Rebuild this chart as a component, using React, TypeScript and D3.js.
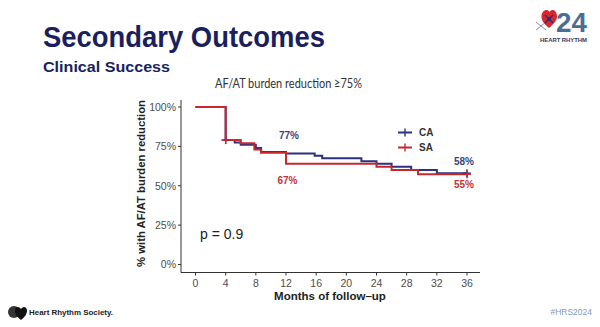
import React from "react";
import * as d3 from "d3";

const caTimes = [0, 4, 5.2, 6, 8, 8.7, 12, 15.8, 16.8, 22, 24, 26, 28.6, 32];
const caSurv = [100, 79, 77.5, 76, 74, 71.5, 70.5, 69, 67.5, 65.5, 64, 62, 60, 58];
const saTimes = [0, 4, 6, 7.8, 8.7, 12, 24, 26, 29.5];
const saSurv = [100, 79, 77, 73, 71, 64, 62, 60, 57.3];
const censorTimes = [4, 36];
const xTicks = [0, 4, 8, 12, 16, 20, 24, 28, 32, 36];
const yTicks = [0, 25, 50, 75, 100];
const seriesNames = ["CA", "SA"];
const annotationTexts = ["77%", "67%", "58%", "55%"];
const annotationSeries = ["CA", "SA", "CA", "SA"];
const annotationT = [12.4, 12.2, 35.6, 35.6];
const annotationV = [79.7, 51.1, 63.2, 48.6];

const NAVY = "#2c3180";
const RED = "#c6282e";
const FONT = "'Liberation Sans', Arial, sans-serif";

export default function App() {
  const x = d3.scaleLinear().domain([0, 36]).range([195.5, 467]);
  const y = d3.scaleLinear().domain([0, 100]).range([264.5, 107]);
  const line = d3
    .line<[number, number]>()
    .x((d) => x(d[0]))
    .y((d) => y(d[1]))
    .curve(d3.curveStepAfter);

  const build = (ts: number[], vs: number[]): [number, number][] => {
    const pts: [number, number][] = ts.map((t, i) => [t, vs[i]]);
    pts.push([36, vs[vs.length - 1]]);
    return pts;
  };
  const series = [
    { name: seriesNames[0], color: NAVY, pts: build(caTimes, caSurv), ts: caTimes, vs: caSurv },
    { name: seriesNames[1], color: RED, pts: build(saTimes, saSurv), ts: saTimes, vs: saSurv },
  ];
  const valueAt = (ts: number[], vs: number[], t: number) => {
    let v = vs[0];
    for (let i = 0; i < ts.length; i++) if (ts[i] <= t) v = vs[i];
    return v;
  };

  const axisLeft = 181;
  const axisBottom = 272.5;

  return (
    <div style={{ position: "fixed", left: 0, top: 0, width: 600, height: 327, background: "#fff" }}>
      <svg width={600} height={327} style={{ display: "block" }}>
        <rect x={0} y={0} width={600} height={327} fill="#fff" />
        {/* Titles */}
        <text x={43} y={46.5} fontFamily={FONT} fontWeight="bold" fontSize={29.5} fill="#1b1f5e" textLength={282} lengthAdjust="spacingAndGlyphs">
          Secondary Outcomes
        </text>
        <text x={43} y={72.3} fontFamily={FONT} fontWeight="bold" fontSize={15.5} fill="#1b1f5e" textLength={127} lengthAdjust="spacingAndGlyphs">
          Clinical Success
        </text>
        <text x={215} y={88} fontFamily="Lato, 'Open Sans', sans-serif" fontSize={12.5} fill="#333" textLength={147} lengthAdjust="spacingAndGlyphs">
          AF/AT burden reduction ≥75%
        </text>

        {/* Logo top right */}
        <g>
          <path d="M536,30 L546,22 M536,22 L546,30" stroke="#8a8f9a" strokeWidth={1} />
          <path
            d="M549,28 C543,23 541.5,20 541.5,16.5 C541.5,12.5 544,10 546.5,10 C548,10 549,11 549.5,12 C550,11 551,10 552.5,10 C555,10 557,12.5 557,16.5 C557,20 555,23 549,28 Z"
            fill="#d8262e"
          />
          <path d="M545,15 L553,23 M553,15 L545,23" stroke="#2a2f6a" strokeWidth={1.4} />
          <circle cx={549} cy={19} r={1.8} fill="#2a2f6a" />
          <text x={556} y={31.5} fontFamily={FONT} fontWeight="bold" fontSize={27} fill="#4c6d96" textLength={31} lengthAdjust="spacingAndGlyphs">
            24
          </text>
          <text x={540} y={42} fontFamily={FONT} fontWeight="bold" fontSize={5} fill="#2a3a6a" textLength={47} lengthAdjust="spacingAndGlyphs">
            HEART RHYTHM
          </text>
        </g>

        {/* Axes */}
        <line x1={axisLeft} x2={axisLeft} y1={100} y2={axisBottom} stroke="#333" strokeWidth={1} />
        <line x1={axisLeft} x2={480} y1={axisBottom} y2={axisBottom} stroke="#333" strokeWidth={1} />
        {yTicks.map((t) => (
          <g key={"y" + t}>
            <line x1={axisLeft - 3} x2={axisLeft} y1={y(t)} y2={y(t)} stroke="#333" />
            <text x={axisLeft - 5} y={y(t) + 3.8} textAnchor="end" fontFamily={FONT} fontSize={10.5} fill="#4d4d4d">
              {t}%
            </text>
          </g>
        ))}
        {xTicks.map((t) => (
          <g key={"x" + t}>
            <line x1={x(t)} x2={x(t)} y1={axisBottom} y2={axisBottom + 3} stroke="#333" />
            <text x={x(t)} y={287} textAnchor="middle" fontFamily={FONT} fontSize={10.5} fill="#4d4d4d">
              {t}
            </text>
          </g>
        ))}
        <text x={330} y={299.5} textAnchor="middle" fontFamily={FONT} fontWeight="bold" fontSize={11.5} fill="#222">
          Months of follow–up
        </text>
        <text
          transform={`translate(144.5,183.5) rotate(-90)`}
          textAnchor="middle"
          fontFamily={FONT}
          fontWeight="bold"
          fontSize={11.3}
          fill="#222"
        >
          % with AF/AT burden reduction
        </text>

        {/* Curves */}
        {series.map((s) => (
          <path key={s.name} d={line(s.pts) || ""} fill="none" stroke={s.color} strokeWidth={2} />
        ))}
        {series.map((s) =>
          censorTimes.map((t) => {
            const v = valueAt(s.ts, s.vs, t);
            return (
              <g key={s.name + t} stroke={s.color} strokeWidth={1.4}>
                <line x1={x(t) - 4} x2={x(t) + 4} y1={y(v)} y2={y(v)} />
                <line x1={x(t)} x2={x(t)} y1={y(v) - 4} y2={y(v) + 4} />
              </g>
            );
          })
        )}

        {/* Annotations */}
        {annotationTexts.map((txt, i) => (
          <text
            key={txt}
            x={x(annotationT[i])}
            y={y(annotationV[i])}
            textAnchor="middle"
            fontFamily={FONT}
            fontWeight="bold"
            fontSize={10}
            fill={annotationSeries[i] === "CA" ? "#3a3f80" : "#c0343a"}
          >
            {txt}
          </text>
        ))}
        <text x={200} y={238.5} fontFamily={FONT} fontSize={14} fill="#222">
          p = 0.9
        </text>

        {/* Legend */}
        {series.map((s, i) => (
          <g key={"lg" + s.name}>
            <line x1={398} x2={412} y1={132.5 + i * 15} y2={132.5 + i * 15} stroke={s.color} strokeWidth={2} />
            <line x1={405} x2={405} y1={128.5 + i * 15} y2={136.5 + i * 15} stroke={s.color} strokeWidth={1.4} />
            <text x={419} y={136 + i * 15} fontFamily={FONT} fontWeight="bold" fontSize={10} fill="#333">
              {s.name}
            </text>
          </g>
        ))}

        {/* Footer */}
        <g>
          <circle cx={14} cy={312} r={6} fill="#333" />
          <path
            d="M21,320 C16,316 15,313 15,310.5 C15,308.5 16.5,307 18,307 C19.3,307 20.3,308 21,309 C21.7,308 22.7,307 24,307 C25.5,307 27,308.5 27,310.5 C27,313 26,316 21,320 Z"
            fill="#111"
          />
          <text x={29} y={315} fontFamily={FONT} fontWeight="bold" fontSize={8} fill="#222" textLength={84} lengthAdjust="spacingAndGlyphs">
            Heart Rhythm Society.
          </text>
          <text x={592} y={315} textAnchor="end" fontFamily={FONT} fontSize={8.5} fill="#7f9ab5">
            #HRS2024
          </text>
        </g>
      </svg>
    </div>
  );
}
